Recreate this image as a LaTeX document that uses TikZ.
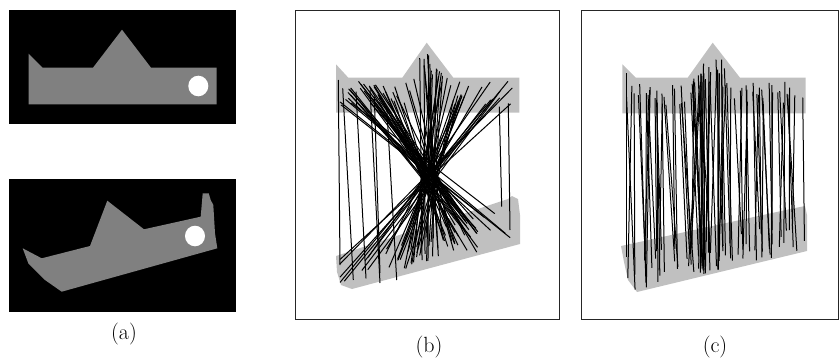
\documentclass[tikz,border=0pt]{standalone}
\usepackage{fontspec}
\setmainfont{Latin Modern Roman}
\usepackage{tikz}
\definecolor{shapegray}{HTML}{808080}
\definecolor{lightshape}{HTML}{C0C0C0}
\tikzset{
  match/.style={draw=black,line width=1pt},
  panelbox/.style={draw=black!85,line width=0.8pt},
  caption/.style={font=\fontsize{22}{26}\selectfont,inner sep=0pt}
}
\begin{document}
\begin{tikzpicture}[x=1pt,y=-1pt]
\useasboundingbox (0,0) rectangle (839,359);
% ---------- (a) ----------
\fill[black] (9,10) rectangle (236,124);
\fill[shapegray] (28.7,53.7) -- (42.7,67.7) -- (93,67.7) -- (122,29.7) -- (151,67.7) -- (216.7,67.7) -- (216.7,104.3) -- (28.7,104.3) -- cycle;
\fill[white] (198.3,86) ellipse (10 and 10.3);
\fill[black] (9,178.7) rectangle (236,312);
\fill[shapegray] (22.7,248.3) -- (41.7,258.3) -- (90,246) -- (107.3,200.7) -- (144,229.3) -- (200.7,216.7) -- (202.7,193.3) -- (208.7,193.3) -- (210.7,200) -- (213.3,205) -- (215,233.3) -- (217.3,248.3) -- (61.7,291.7) -- (45,280) -- (28.3,263.3) -- cycle;
\fill[white] (195,236) ellipse (10 and 10.3);
\node[caption] (capa) at (124,334) {(a)};
% ---------- (b) ----------
\draw[panelbox] (295,10) rectangle (559.3,319);
\fill[lightshape] (336,64.3) -- (348.3,77.7) -- (402.3,77.7) -- (426.7,42.7) -- (453.3,77.7) -- (519.3,77.7) -- (519.3,112.7) -- (336,112.7) -- cycle;
\fill[lightshape] (336,256) -- (508,199) -- (512,196) -- (518,199) -- (520,215) -- (520,244) -- (352,289) -- (341,285) -- (337,272) -- cycle;
\pgfmathsetseed{11}
\foreach \i in {1,...,80}{
  \pgfmathsetmacro\xa{340+175*rnd}
  \pgfmathsetmacro\ytb{min(79,46+1.4*abs(\xa-426.7))}
  \pgfmathsetmacro\ya{\ytb+2+24*rnd}
  \pgfmathsetmacro\pcx{430+18*(rnd-0.5)}
  \pgfmathsetmacro\pcy{175+12*(rnd-0.5)}
  \pgfmathsetmacro\xe{\xa+2*(\pcx-\xa)}
  \pgfmathsetmacro\yt{257-0.31*(\xe-336)}
  \pgfmathsetmacro\yb{289-0.25*(\xe-336)}
  \pgfmathsetmacro\ye{\yt+(0.2+0.75*rnd)*(\yb-\yt)}
  \pgfmathsetmacro\sfac{(\ye-\ya)/(\pcy-\ya)}
  \pgfmathsetmacro\xb{max(340,min(518,\xa+(\pcx-\xa)*\sfac))}
  \draw[match] (\xa,\ya) -- (\xb,\ye);
}
\draw[match] (338.3,80) -- (340,265);
\draw[match] (342.7,88.3) -- (353.3,280);
\draw[match] (356,91.7) -- (366,278.3);
\draw[match] (370,90) -- (380,283);
\draw[match] (374.3,96.7) -- (380,273);
\draw[match] (386.7,106.7) -- (396.7,280);
\draw[match] (499.3,106.7) -- (501.7,206.7);
\draw[match] (508.3,103.3) -- (510,230);
\node[caption] (capb) at (429,347) {(b)};
% ---------- (c) ----------
\draw[panelbox] (581.7,10) rectangle (838.5,319);
\fill[lightshape] (622.3,64.3) -- (635.7,77.7) -- (687.7,77.7) -- (712.7,42.7) -- (740,77.7) -- (805.7,77.7) -- (805.7,113.3) -- (622.3,113.3) -- cycle;
\fill[lightshape] (621,246) -- (795,208) -- (805,206) -- (807,215) -- (807,251) -- (637,292) -- (628,280) -- (624,262) -- cycle;
\pgfmathsetseed{5}
\foreach \i in {1,...,66}{
  \pgfmathsetmacro\xa{624+180*rnd}
  \pgfmathsetmacro\ytb{min(78,44+1.4*abs(\xa-712.7))}
  \pgfmathsetmacro\ya{\ytb+3+24*rnd}
  \pgfmathsetmacro\xb{\xa+18*(rnd-0.3)}
  \pgfmathsetmacro\yt{248-0.2*(\xb-622)}
  \pgfmathsetmacro\yb{292-0.235*(\xb-637)}
  \pgfmathsetmacro\ye{\yt+(0.2+0.75*rnd)*(\yb-\yt)}
  \draw[match] (\xa,\ya) -- (\xb,\ye);
}
\foreach \i in {1,...,16}{
  \pgfmathsetmacro\xa{698+30*rnd}
  \pgfmathsetmacro\ytb{min(78,44+1.4*abs(\xa-712.7))}
  \pgfmathsetmacro\ya{\ytb+2+35*rnd}
  \pgfmathsetmacro\xb{\xa+24*(rnd-0.55)}
  \pgfmathsetmacro\yt{248-0.2*(\xb-622)}
  \pgfmathsetmacro\yb{292-0.235*(\xb-637)}
  \pgfmathsetmacro\ye{\yt+(0.3+0.65*rnd)*(\yb-\yt)}
  \draw[match] (\xa,\ya) -- (\xb,\ye);
}
\draw[match] (626.7,73.3) -- (626.7,256.7);
\node[caption] (capc) at (715,347) {(c)};
\end{tikzpicture}
\end{document}
